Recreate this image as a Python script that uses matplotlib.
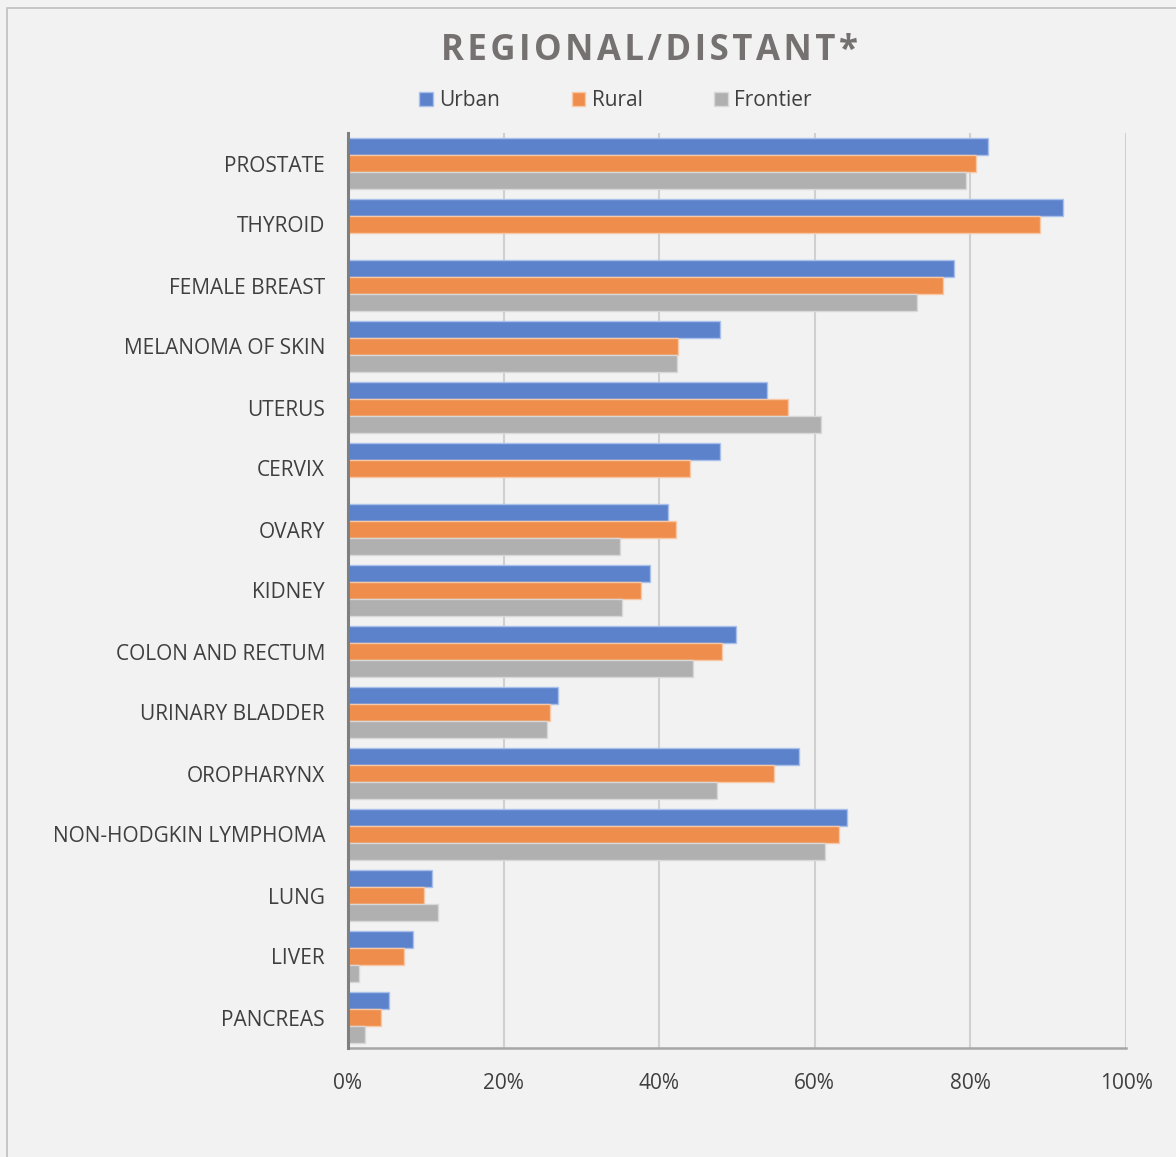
# Regional/distant stage share by cancer site, urban vs rural vs frontier
import numpy as np
import matplotlib.pyplot as plt
import matplotlib.patches as mpatches

sites = ["PROSTATE", "THYROID", "FEMALE BREAST", "MELANOMA OF SKIN", "UTERUS",
         "CERVIX", "OVARY", "KIDNEY", "COLON AND RECTUM", "URINARY BLADDER",
         "OROPHARYNX", "NON-HODGKIN LYMPHOMA", "LUNG", "LIVER", "PANCREAS"]

urban    = [82.3, 91.9, 77.9, 47.8, 53.9, 47.8, 41.1, 38.8, 49.9, 27.0, 58.0, 64.1, 10.8, 8.4, 5.3]
rural    = [80.7, 88.9, 76.5, 42.4, 56.6, 44.0, 42.2, 37.7, 48.1, 26.0, 54.8, 63.1, 9.8, 7.2, 4.2]
frontier = [79.4, np.nan, 73.1, 42.3, 60.8, np.nan, 35.0, 35.2, 44.3, 25.6, 47.4, 61.3, 11.6, 1.4, 2.2]

series = [("Urban", urban, "#5b82cb", "#a9c0ea"),
          ("Rural", rural, "#ef8e4c", "#f7c7a6"),
          ("Frontier", frontier, "#b0b0b0", "#d8d8d8")]

bg = "#f2f2f2"
text_col = "#3f3f3f"

fig = plt.figure(figsize=(11.76, 11.57), dpi=100, facecolor=bg)
# outer chart border (top and left visible)
fig.patches.append(mpatches.Rectangle((7 / 1176, -0.01), 1.02, 1 - 8 / 1157 + 0.01,
                                      transform=fig.transFigure, fill=False,
                                      edgecolor="#bfbfbf", linewidth=1.2))

ax = fig.add_axes([348 / 1176, 1 - 1048 / 1157, 778 / 1176, 915 / 1157])
ax.set_facecolor(bg)

y = np.arange(len(sites))
h = 0.265
step = 0.28
for i, (name, vals, col, edge) in enumerate(series):
    ax.barh(y + (i - 1) * step, vals, height=h, color=col, edgecolor=edge,
            linewidth=1.0, label=name, zorder=3)

ax.set_xlim(0, 100)
ax.set_ylim(len(sites) - 0.5, -0.5)
ax.set_xticks(range(0, 101, 20))
ax.set_xticklabels([f"{v}%" for v in range(0, 101, 20)])
ax.set_yticks(y)
ax.set_yticklabels(sites)
ax.tick_params(axis="both", length=0, labelsize=15, labelcolor=text_col)
ax.tick_params(axis="x", pad=18)
ax.tick_params(axis="y", pad=16.5)
for lab in ax.get_xticklabels() + ax.get_yticklabels():
    lab.set_family("Open Sans")

ax.grid(axis="x", color="#d0d0d0", linewidth=1.5, zorder=0)
for s in ["top", "right"]:
    ax.spines[s].set_visible(False)
ax.spines["left"].set_color("#7f7f7f")
ax.spines["left"].set_linewidth(2.2)
ax.spines["left"].set_zorder(4)
ax.spines["bottom"].set_color("#a6a6a6")
ax.spines["bottom"].set_linewidth(1.8)

title = "\u200a".join("REGIONAL/DISTANT*")
fig.text(0.5525, 1 - 51 / 1157, title, ha="center", va="center",
         fontsize=25, fontweight="bold", color="#767171", family="Open Sans")

handles = [mpatches.Patch(facecolor=c, edgecolor=e, label=n) for n, _, c, e in series]
leg = fig.legend(handles=handles, loc="center", bbox_to_anchor=(0.5234, 1 - 101 / 1157),
                 ncol=3, frameon=False, columnspacing=3.45,
                 handlelength=0.65, handleheight=0.65, handletextpad=0.3,
                 prop={"family": "Open Sans", "size": 15})
for t in leg.get_texts():
    t.set_color(text_col)

plt.savefig("out.png", dpi=100, facecolor=bg)
